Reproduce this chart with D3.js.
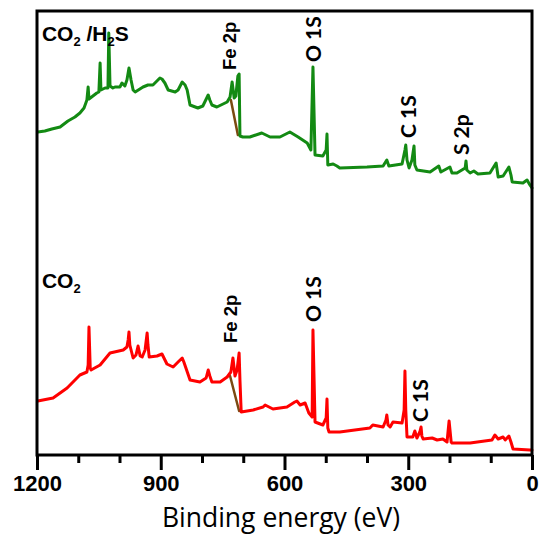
<!DOCTYPE html>
<html><head><meta charset="utf-8">
<script src="https://cdn.jsdelivr.net/npm/d3@7"></script>
<style>body{margin:0;background:#fff}</style>
</head><body>
<svg id="c" width="539" height="536"></svg>
<script>
// Binding energy (eV) / intensity (a.u.)
const greenE = [1198,1181,1164,1144,1125,1108,1096,1086,1079,1076,1074,1055,1050,1047,1045,1035,1028,1026,1023,1016,1011,999,994,987,982,977,972,967,962,943,931,919,902,897,890,882,865,858,848,841,836,829,810,798,785,781,776,764,739,732,727,722,718,713,710,708,701,684,655,635,611,587,567,545,536,531,526,507,499,497,495,482,473,466,400,361,352,347,315,308,306,303,298,291,286,284,279,247,226,221,199,194,182,162,160,158,150,141,131,102,87,82,70,56,51,48,22,12,5,0];
const greenI = [323,324,326,328,334,338,342,347,355,368,356,362,363,392,365,367,367,422,369,367,368,368,372,369,375,387,375,365,363,368,370,370,377,376,372,365,363,365,373,370,365,350,347,349,360,355,350,348,353,358,373,357,359,379,381,319,318,318,322,318,318,323,318,312,305,388,300,299,305,321,290,291,289,287,288,289,295,289,291,305,310,295,287,295,309,290,285,283,289,283,288,282,282,287,294,285,282,284,281,282,292,278,279,288,280,273,272,275,270,267];
const redE = [1198,1161,1127,1096,1079,1076,1074,1071,1069,1047,1023,991,982,979,977,975,967,960,955,950,945,938,933,931,928,909,897,885,870,858,848,844,829,805,790,785,781,776,756,739,730,725,720,715,710,708,705,676,652,647,628,594,575,570,562,550,541,533,531,526,507,499,497,495,492,466,393,386,361,354,352,349,344,337,315,310,308,306,303,289,284,279,272,269,267,264,242,230,216,206,201,196,194,150,97,90,82,70,65,56,51,46,5,0];
const redI = [54,57,67,80,83,90,128,87,85,90,102,105,108,115,123,110,97,100,109,99,98,105,122,110,98,99,101,91,88,93,97,93,75,73,77,85,79,73,73,78,83,97,79,85,102,75,43,45,48,50,46,48,53,54,50,52,42,38,125,33,30,37,56,27,23,23,27,30,28,35,40,30,28,33,32,45,84,45,18,18,24,17,23,28,19,16,17,15,16,13,34,13,12,12,15,20,16,18,15,19,13,6,5,5];
// Fe 2p satellite shoulder (brown)
const greenSatE = [730,713], greenSatI = [355,320];
const redSatE = [732,710], redSatI = [79,44];
const majorTicks = [1200,900,600,300,0];
const minorTicks = [1100,1000,800,700,500,400,200,100];
const peakLabelsGreen = [{t:"Fe 2p",e:718,i:385,f:"Liberation Sans",s:18.5},{t:"O 1S",e:511,i:393,f:"Lato",s:21},{t:"C 1S",e:281,i:317,f:"Lato",s:21},{t:"S 2p",e:153,i:300,f:"Lato",s:21}];
const peakLabelsRed = [{t:"Fe 2p",e:715,i:112,f:"Liberation Sans",s:18.5},{t:"O 1S",e:511,i:133,f:"Lato",s:21},{t:"C 1S",e:252,i:33,f:"Lato",s:21}];

const svg = d3.select("#c");
const L=37,R=532,T=11,B=455;
const x = d3.scaleLinear().domain([1200,0]).range([L,R]);
const y = d3.scaleLinear().domain([0,444]).range([B,T]);
const line = d3.line().x(d=>x(d[0])).y(d=>y(d[1]));

function draw(E,I,color,w){
  svg.append("path").datum(E.map((e,k)=>[e,I[k]]))
    .attr("d",line).attr("fill","none").attr("stroke",color)
    .attr("stroke-width",w).attr("stroke-linejoin","round").attr("stroke-linecap","round");
}
draw(greenSatE,greenSatI,"#7b4a12",2.5);
draw(redSatE,redSatI,"#7b4a12",2.5);
draw(greenE,greenI,"#138a13",3);
draw(redE,redI,"#ff0000",3);

// axes
const gMaj = svg.append("g").attr("transform",`translate(0,${B})`)
  .call(d3.axisBottom(x).tickValues(majorTicks).tickSize(15).tickPadding(8).tickFormat(d3.format("d")));
const gMin = svg.append("g").attr("transform",`translate(0,${B})`)
  .call(d3.axisBottom(x).tickValues(minorTicks).tickSize(8).tickFormat(""));
[gMaj,gMin].forEach(g=>{g.select(".domain").remove();g.selectAll("line").attr("stroke","#000").attr("stroke-width",3);});
gMaj.selectAll("text").attr("font-family","Liberation Sans, Arial").attr("font-weight","bold").attr("font-size",22).attr("fill","#000").attr("dy","0.6em");

svg.append("rect").attr("x",L).attr("y",T).attr("width",R-L).attr("height",B-T)
  .attr("fill","none").attr("stroke","#000").attr("stroke-width",3);

svg.append("text").attr("x",281).attr("y",527).attr("text-anchor","middle")
  .attr("font-family","Open Sans, Lato").attr("font-size",26.5).attr("fill","#000").text("Binding energy (eV)");

// series labels
function seriesLabel(xp,yp,parts){
  const t = svg.append("text").attr("x",xp).attr("y",yp).attr("font-family","Liberation Sans, Arial")
    .attr("font-weight","bold").attr("font-size",21).attr("fill","#000");
  parts.forEach(p=>{
    const ts=t.append("tspan").text(p[0]);
    if(p[1]) ts.attr("font-size",13).attr("dy",5); else ts.attr("dy",p[2]||0);
  });
}
seriesLabel(x(1188),y(414),[["CO"],["2",1],[" /H",0,-5],["2",1],["S",0,-5]]);
seriesLabel(x(1188),y(167),[["CO"],["2",1]]);

function peakLabels(arr){
  arr.forEach(d=>{
    svg.append("text").attr("transform",`translate(${x(d.e)},${y(d.i)}) rotate(-90)`)
      .attr("font-family",d.f).attr("font-weight","bold").attr("font-size",d.s).attr("fill","#000").text(d.t);
  });
}
peakLabels(peakLabelsGreen);
peakLabels(peakLabelsRed);
</script>
</body></html>
